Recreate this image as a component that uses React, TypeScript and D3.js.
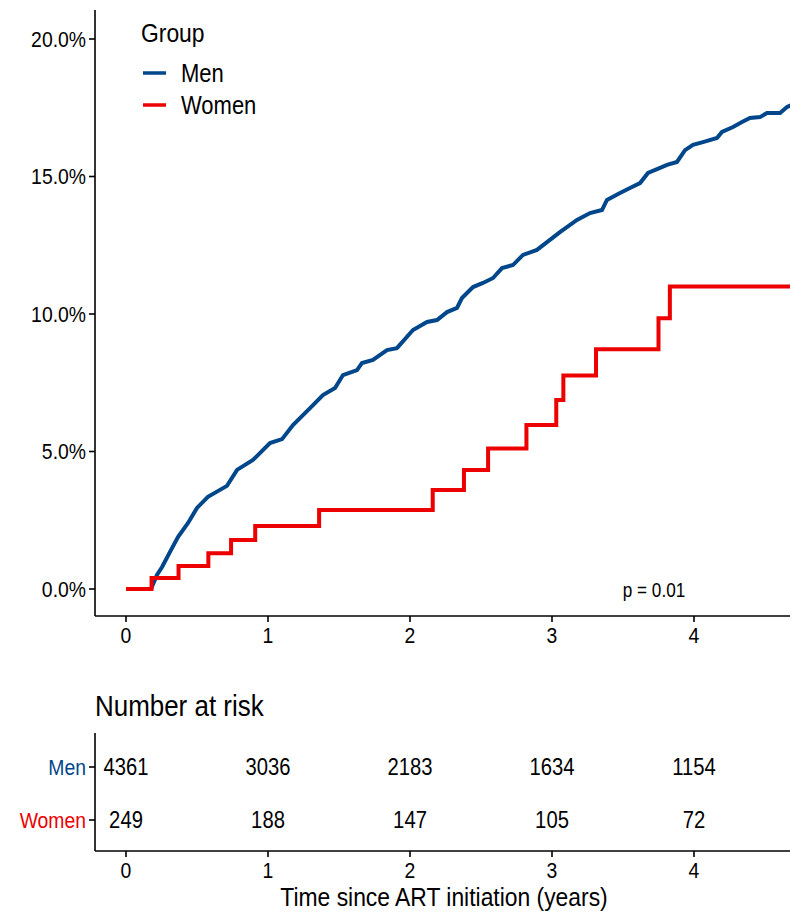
import React, { useEffect, useRef } from "react";
import * as d3 from "d3";

// cumulative incidence (%)
const menTime = [0, 0.176, 0.218, 0.254, 0.31, 0.366, 0.437, 0.5, 0.577, 0.711, 0.782, 0.894, 1.014, 1.099, 1.176, 1.296, 1.387, 1.472, 1.528, 1.627, 1.662, 1.739, 1.838, 1.908, 2.021, 2.12, 2.19, 2.261, 2.331, 2.366, 2.444, 2.514, 2.585, 2.648, 2.725, 2.796, 2.894, 3.056, 3.176, 3.268, 3.352, 3.387, 3.479, 3.549, 3.62, 3.676, 3.761, 3.81, 3.88, 3.937, 3.993, 4.063, 4.162, 4.197, 4.275, 4.338, 4.394, 4.465, 4.514, 4.606, 4.655, 4.7];
const menPct = [0, 0, 0.51, 0.8, 1.35, 1.89, 2.4, 2.95, 3.35, 3.75, 4.33, 4.69, 5.31, 5.45, 5.96, 6.58, 7.05, 7.31, 7.78, 7.96, 8.22, 8.33, 8.69, 8.76, 9.42, 9.71, 9.78, 10.07, 10.22, 10.58, 10.98, 11.13, 11.31, 11.67, 11.78, 12.15, 12.33, 12.98, 13.42, 13.67, 13.78, 14.15, 14.4, 14.58, 14.76, 15.13, 15.31, 15.42, 15.53, 15.96, 16.15, 16.25, 16.4, 16.62, 16.8, 16.98, 17.13, 17.16, 17.31, 17.31, 17.53, 17.62];

const womenTime = [0, 0.18, 0.37, 0.58, 0.74, 0.91, 1.36, 2.16, 2.38, 2.55, 2.82, 3.03, 3.08, 3.31, 3.75, 3.83, 4.7];
const womenPct = [0, 0.4, 0.84, 1.3, 1.78, 2.29, 2.87, 3.6, 4.33, 5.11, 5.96, 6.87, 7.76, 8.72, 9.85, 11.0, 11.0];

const groups = ["Men", "Women"];
const colors = ["#00468B", "#ED0000"];
const xTicks = [0, 1, 2, 3, 4];
const yTicks = [0, 5, 10, 15, 20];
const riskMen = [4361, 3036, 2183, 1634, 1154];
const riskWomen = [249, 188, 147, 105, 72];

const FONT = "'Liberation Sans', Arial, sans-serif";
const SX = 0.88; // the original text is set in a condensed face

export default function App() {
  const ref = useRef<SVGSVGElement>(null);

  useEffect(() => {
    const W = 790;
    const H = 913;
    const svg = d3.select(ref.current).attr("width", W).attr("height", H);
    svg.selectAll("*").remove();

    // condensed text helper
    const txt = (
      px: number,
      py: number,
      s: string | number,
      size: number,
      anchor = "start",
      fill = "#000",
      dy = "0.35em"
    ) =>
      svg
        .append("text")
        .attr("transform", `translate(${px},${py}) scale(${SX},1)`)
        .attr("dy", dy)
        .attr("text-anchor", anchor)
        .attr("fill", fill)
        .style("font-family", FONT)
        .style("font-size", `${size}px`)
        .text(s);

    const left = 95;
    const right = 790;
    const x = d3.scaleLinear().domain([0, 1]).range([126, 268]);
    const y = d3.scaleLinear().domain([0, 5]).range([589, 451.5]);
    const plotTop = 10;
    const plotBottom = 616;

    svg
      .append("clipPath")
      .attr("id", "clip")
      .append("rect")
      .attr("x", left)
      .attr("y", plotTop)
      .attr("width", right - left)
      .attr("height", plotBottom - plotTop);

    const lineGen = d3
      .line<[number, number]>()
      .x((d) => x(d[0]))
      .y((d) => y(d[1]));

    const g = svg.append("g").attr("clip-path", "url(#clip)");
    g.append("path")
      .datum(menTime.map((t, i) => [t, menPct[i]] as [number, number]))
      .attr("d", lineGen.curve(d3.curveLinear))
      .attr("fill", "none")
      .attr("stroke", colors[0])
      .attr("stroke-width", 4);
    g.append("path")
      .datum(womenTime.map((t, i) => [t, womenPct[i]] as [number, number]))
      .attr("d", lineGen.curve(d3.curveStepAfter))
      .attr("fill", "none")
      .attr("stroke", colors[1])
      .attr("stroke-width", 4);

    const axisLine = (x1: number, y1: number, x2: number, y2: number) =>
      svg.append("line").attr("x1", x1).attr("y1", y1).attr("x2", x2).attr("y2", y2).attr("stroke", "#000").attr("stroke-width", 1.6);

    // y axis
    axisLine(left, plotTop, left, plotBottom);
    yTicks.forEach((v) => {
      axisLine(left - 6, y(v), left, y(v));
      txt(left - 9, y(v), `${v.toFixed(1)}%`, 22, "end");
    });

    // x axis (used for plot and risk table)
    const drawX = (yy: number) => {
      axisLine(left, yy, right, yy);
      xTicks.forEach((v) => {
        axisLine(x(v), yy, x(v), yy + 6);
        txt(x(v), yy + 19, v, 22, "middle");
      });
    };
    drawX(plotBottom);

    // legend
    txt(141, 33, "Group", 26, "start");
    groups.forEach((name, i) => {
      const ly = 73 + i * 32;
      svg.append("line").attr("x1", 143).attr("x2", 166).attr("y1", ly).attr("y2", ly).attr("stroke", colors[i]).attr("stroke-width", 3.5);
      txt(181, ly, name, 25, "start");
    });

    // p value
    txt(654, 590, "p = 0.01", 19.5, "middle");

    // risk table
    txt(95, 706, "Number at risk", 29.5, "start");
    const tTop = 733;
    const tBottom = 851;
    const rows = [riskMen, riskWomen];
    const rowY = [767, 820];
    axisLine(left, tTop, left, tBottom);
    rows.forEach((vals, r) => {
      axisLine(left - 6, rowY[r], left, rowY[r]);
      txt(left - 9, rowY[r], groups[r], 22, "end", colors[r]);
      vals.forEach((v, i) => {
        txt(x(xTicks[i]), rowY[r], v, 23, "middle");
      });
    });
    drawX(tBottom);
    txt(444, 897, "Time since ART initiation (years)", 26, "middle");
  }, []);

  return <svg ref={ref} style={{ display: "block", position: "absolute", left: 0, top: 0 }}></svg>;
}
